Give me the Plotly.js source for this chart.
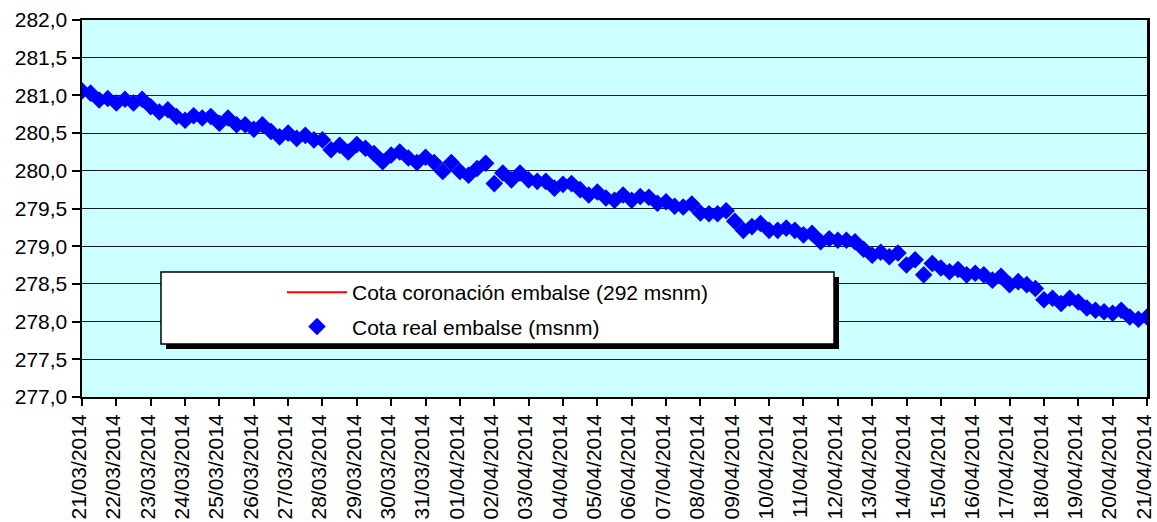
<!DOCTYPE html>
<html>
<head>
<meta charset="utf-8">
<script src="https://cdn.plot.ly/plotly-3.0.1.min.js"></script>
<style>html,body{margin:0;padding:0;background:#fff;}#chart{width:1157px;height:522px;}</style>
</head>
<body>
<div id="chart"></div>
<script>
// Reservoir level readings, one every 6 hours from 21/03/2014 00:00
const startDate = '2014-03-21T00:00:00';
const stepHours = 6;
const cotaReal = [
  281.06, 281.03, 280.94, 280.96, 280.90, 280.95, 280.90, 280.95,
  280.85, 280.78, 280.81, 280.72, 280.67, 280.73, 280.70, 280.72,
  280.63, 280.70, 280.61, 280.61, 280.55, 280.61, 280.52, 280.45,
  280.50, 280.43, 280.47, 280.41, 280.41, 280.28, 280.34, 280.25,
  280.35, 280.30, 280.23, 280.12, 280.21, 280.25, 280.17, 280.11,
  280.18, 280.11, 279.99, 280.11, 279.99, 279.94, 280.03, 280.10,
  279.83, 279.97, 279.88, 279.97, 279.88, 279.86, 279.86, 279.77,
  279.82, 279.83, 279.75, 279.68, 279.72, 279.64, 279.61, 279.68,
  279.61, 279.66, 279.65, 279.57, 279.59, 279.53, 279.52, 279.56,
  279.44, 279.43, 279.43, 279.47, 279.33, 279.21, 279.26, 279.30,
  279.21, 279.21, 279.24, 279.21, 279.15, 279.17, 279.06, 279.10,
  279.08, 279.08, 279.06, 278.96, 278.88, 278.92, 278.86, 278.91,
  278.75, 278.82, 278.62, 278.77, 278.71, 278.66, 278.69, 278.62,
  278.64, 278.62, 278.55, 278.60, 278.49, 278.53, 278.49, 278.44,
  278.29, 278.31, 278.24, 278.31, 278.26, 278.18, 278.15, 278.13,
  278.11, 278.15, 278.06, 278.03, 278.06
];
const cotaCoronacion = 292; // crest level, msnm (outside the plotted range)
const seriesNames = ['Cota coronación embalse (292 msnm)', 'Cota real embalse (msnm)'];
const xRange = ['2014-03-21', '2014-04-21'];
const yRange = [277, 282];

const t0 = new Date(startDate + 'Z').getTime();
const fechas = cotaReal.map((_, i) => new Date(t0 + i * stepHours * 3600000).toISOString().slice(0, 19));

const font = 'Liberation Sans, Arial, sans-serif';

const traces = [
  {
    x: [fechas[0], fechas[fechas.length - 1]],
    y: [cotaCoronacion, cotaCoronacion],
    name: seriesNames[0],
    mode: 'lines',
    line: {color: '#FF0000', width: 2},
    legendgroup: 'a',
    hoverinfo: 'skip'
  },
  {
    x: fechas,
    y: cotaReal,
    name: seriesNames[1],
    mode: 'markers',
    marker: {symbol: 'diamond', size: 13.5, color: '#0000FF', line: {width: 0}},
    legendgroup: 'b',
    cliponaxis: true
  }
];

// legend box geometry in paper coords (plot area: x 82..1147, y 20..397)
const px = v => (v - 82) / 1065;
const py = v => (397 - v) / 377;

const layout = {
  width: 1157,
  height: 522,
  margin: {l: 82, r: 10, t: 20, b: 125},
  paper_bgcolor: '#FFFFFF',
  plot_bgcolor: '#CCFFFF',
  separators: ',.',
  font: {family: font, size: 21, color: '#000'},
  showlegend: true,
  legend: {
    x: px(282), y: py(272), xanchor: 'left', yanchor: 'top',
    bgcolor: 'rgba(0,0,0,0)', borderwidth: 0,
    font: {family: font, size: 21, color: '#000'},
    tracegroupgap: 4,
    traceorder: 'grouped',
    itemwidth: 60
  },
  xaxis: {
    type: 'date',
    range: xRange,
    dtick: 86400000,
    tick0: '2014-03-21',
    tickformat: '%d/%m/%Y',
    tickangle: -90,
    ticks: 'outside',
    ticklen: 7,
    tickwidth: 2,
    tickcolor: '#000',
    showgrid: false,
    showline: true,
    linecolor: '#000',
    linewidth: 2,
    mirror: true,
    zeroline: false,
    ticklabeloverflow: 'allow',
    ticklabelshift: -3,
    tickfont: {family: font, size: 21, color: '#000'}
  },
  yaxis: {
    range: yRange,
    dtick: 0.5,
    tick0: 277,
    tickformat: '.1f',
    ticks: 'outside',
    ticklen: 8,
    tickwidth: 2,
    tickcolor: '#000',
    showgrid: true,
    gridcolor: '#1a1a1a',
    gridwidth: 1,
    showline: true,
    linecolor: '#000',
    linewidth: 2.5,
    mirror: true,
    zeroline: false,
    ticklabeloverflow: 'allow',
    tickfont: {family: font, size: 21, color: '#000'}
  },
  shapes: [
    {type: 'rect', xref: 'paper', yref: 'paper', x0: px(166), x1: px(839), y0: py(277), y1: py(349),
     fillcolor: '#000', line: {width: 0}, layer: 'above'},
    {type: 'rect', xref: 'paper', yref: 'paper', x0: px(161), x1: px(834), y0: py(272), y1: py(344),
     fillcolor: '#FFFFFF', line: {color: '#000', width: 1.5}, layer: 'above'}
  ]
};

Plotly.newPlot('chart', traces, layout, {staticPlot: true, displayModeBar: false});
</script>
</body>
</html>
